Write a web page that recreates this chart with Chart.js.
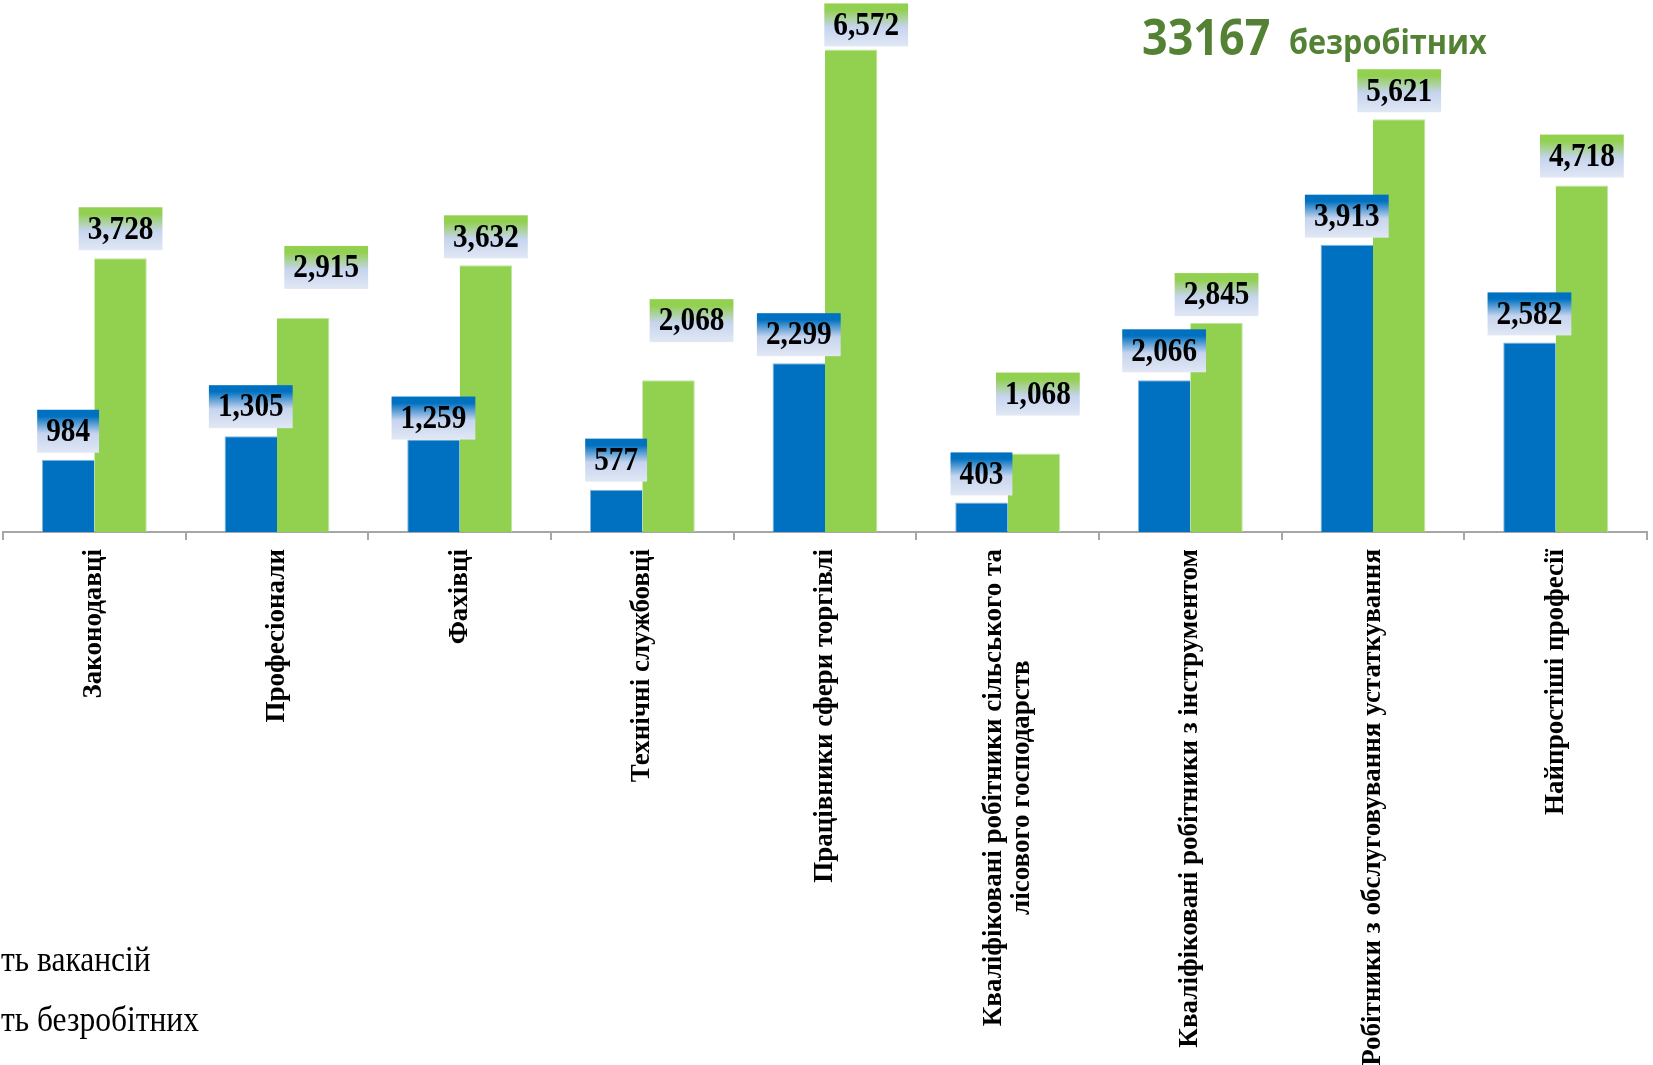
<!DOCTYPE html>
<html lang="uk">
<head>
<meta charset="utf-8">
<title>Вакансії та безробітні за професійними групами</title>
<script src="https://cdn.jsdelivr.net/npm/chart.js@4.4.1/dist/chart.umd.min.js"></script>
<style>
    html, body { margin: 0; padding: 0; background: #ffffff; }
    #wrap { position: relative; width: 1653px; height: 1065px; overflow: hidden; }
</style>
</head>
<body>
<div id="wrap"><canvas id="chart" width="1653" height="1065"></canvas></div>
<script>
// --- data ---
const categories = [
    'Законодавці',
    'Професіонали',
    'Фахівці',
    'Технічні службовці',
    'Працівники сфери торгівлі',
    ['Кваліфіковані робітники сільського та', 'лісового господарств'],
    'Кваліфіковані робітники з інструментом',
    'Робітники з обслуговування устаткування',
    'Найпростіші професії'
];
const vacancies = [984, 1305, 1259, 577, 2299, 403, 2066, 3913, 2582];
const unemployed = [3728, 2915, 3632, 2068, 6572, 1068, 2845, 5621, 4718];
const seriesNames = ['Кількість вакансій', 'Кількість безробітних'];
const totalWord = 'безробітних';

// label nudges (px) where the original labels were dragged off their default spot: [dx, gap above bar]
const vacLabelNudge = [[0, 7], [0, 8], [0, 0], [0, 8], [0, 7], [0, 7], [0, 8], [0, 7], [0, 7]];
const unempLabelNudge = [[0, 8], [23, 29], [0, 7], [23, 38], [15, 3], [4, 38], [0, 7], [0, 7], [0, 8]];

const BLUE = '#0070C0';
const GREEN = '#92D050';
const SERIF = '"Liberation Serif", "Times New Roman", serif';

const totalUnemployed = unemployed.reduce((a, b) => a + b, 0);

function fmt(v) {
    return v.toLocaleString('en-US');
}

// value boxes with the two-tone gradient
const valueBoxes = {
    id: 'valueBoxes',
    afterDatasetsDraw(chart) {
        const ctx = chart.ctx;
        const nudges = [vacLabelNudge, unempLabelNudge];
        const tops = [BLUE, GREEN];
        chart.data.datasets.forEach((ds, di) => {
            const meta = chart.getDatasetMeta(di);
            meta.data.forEach((bar, i) => {
                const text = fmt(ds.data[i]);
                const sx = 0.86;
                ctx.save();
                ctx.font = 'bold 34px ' + SERIF;
                const tw = ctx.measureText(text).width * sx;
                const w = tw + 18;
                const h = 43;
                const cx = bar.x + nudges[di][i][0];
                const bottom = bar.y - nudges[di][i][1];
                const top = bottom - h;
                const g = ctx.createLinearGradient(0, top, 0, bottom);
                g.addColorStop(0, tops[di]);
                g.addColorStop(0.15, tops[di]);
                g.addColorStop(0.55, '#c6d4ee');
                g.addColorStop(1, '#e1e8f5');
                ctx.fillStyle = g;
                ctx.fillRect(cx - w / 2, top, w, h);
                ctx.translate(cx, top + h / 2 + 1);
                ctx.scale(sx, 1);
                ctx.fillStyle = '#000000';
                ctx.textAlign = 'center';
                ctx.textBaseline = 'middle';
                ctx.fillText(text, 0, 0);
                ctx.restore();
            });
        });
    }
};

// rotated category labels, multi-line ones centred on each other
const categoryLabels = {
    id: 'categoryLabels',
    afterDraw(chart) {
        const ctx = chart.ctx;
        const xs = chart.scales.x;
        const topY = chart.chartArea.bottom + 17;
        ctx.save();
        ctx.font = 'bold 27px ' + SERIF;
        ctx.fillStyle = '#000000';
        ctx.textBaseline = 'middle';
        categories.forEach((c, i) => {
            const lines = Array.isArray(c) ? c : [c];
            const x = xs.getPixelForValue(i);
            const maxW = Math.max(...lines.map(l => ctx.measureText(l).width));
            ctx.save();
            ctx.translate(x, topY);
            ctx.rotate(-Math.PI / 2);
            lines.forEach((l, j) => {
                const off = (j - (lines.length - 1) / 2) * 28;
                if (lines.length === 1) {
                    ctx.textAlign = 'right';
                    ctx.fillText(l, 0, off);
                } else {
                    ctx.textAlign = 'center';
                    ctx.fillText(l, -maxW / 2, off);
                }
            });
            ctx.restore();
        });
        ctx.restore();
    }
};

// headline + legend text (legend sits partly outside the left edge, as in the original)
const extraText = {
    id: 'extraText',
    afterDraw(chart) {
        const ctx = chart.ctx;
        ctx.save();
        ctx.fillStyle = '#548235';
        ctx.textBaseline = 'alphabetic';
        ctx.textAlign = 'left';
        ctx.font = 'bold 51px "Open Sans", sans-serif';
        const num = String(totalUnemployed);
        ctx.save();
        ctx.translate(1142, 55);
        ctx.scale(0.88, 1);
        ctx.fillText(num, 0, 0);
        ctx.restore();
        ctx.font = 'bold 34px "Open Sans", sans-serif';
        ctx.save();
        ctx.translate(1289, 54);
        ctx.scale(0.9, 1);
        ctx.fillText(totalWord, 0, 0);
        ctx.restore();

        ctx.fillStyle = '#000000';
        ctx.font = '35px ' + SERIF;
        const baselines = [971, 1031];
        seriesNames.forEach((name, i) => {
            const cut = name.indexOf('ть');
            const prefixW = ctx.measureText(name.slice(0, cut)).width * 0.9;
            ctx.save();
            ctx.translate(1 - prefixW, baselines[i]);
            ctx.scale(0.9, 1);
            ctx.fillText(name, 0, 0);
            ctx.restore();
        });
        ctx.restore();
    }
};

new Chart(document.getElementById('chart'), {
    type: 'bar',
    data: {
        labels: categories,
        datasets: [
            {
                label: seriesNames[0],
                data: vacancies,
                backgroundColor: BLUE,
                borderColor: 'rgba(120, 175, 225, 0.9)',
                borderWidth: { top: 1, left: 1, right: 0, bottom: 0 },
                categoryPercentage: 0.574,
                barPercentage: 1.0
            },
            {
                label: seriesNames[1],
                data: unemployed,
                backgroundColor: GREEN,
                borderColor: 'rgba(185, 228, 150, 0.9)',
                borderWidth: { top: 1, left: 0, right: 1, bottom: 0 },
                categoryPercentage: 0.574,
                barPercentage: 1.0
            }
        ]
    },
    options: {
        responsive: false,
        animation: false,
        devicePixelRatio: 1,
        layout: { padding: { left: 3, right: 6, top: 18, bottom: 0 } },
        plugins: {
            legend: { display: false },
            tooltip: { enabled: false },
            title: { display: false }
        },
        scales: {
            x: {
                offset: true,
                grid: {
                    display: true,
                    offset: true,
                    drawOnChartArea: false,
                    drawTicks: true,
                    tickLength: 8,
                    color: '#a6a6a6',
                    lineWidth: 2
                },
                border: { display: true, color: '#a6a6a6', width: 2 },
                ticks: { display: false },
                afterFit(scale) { scale.height = 533; }
            },
            y: {
                display: false,
                min: 0,
                max: 7000
            }
        }
    },
    plugins: [valueBoxes, categoryLabels, extraText]
});
</script>
</body>
</html>
